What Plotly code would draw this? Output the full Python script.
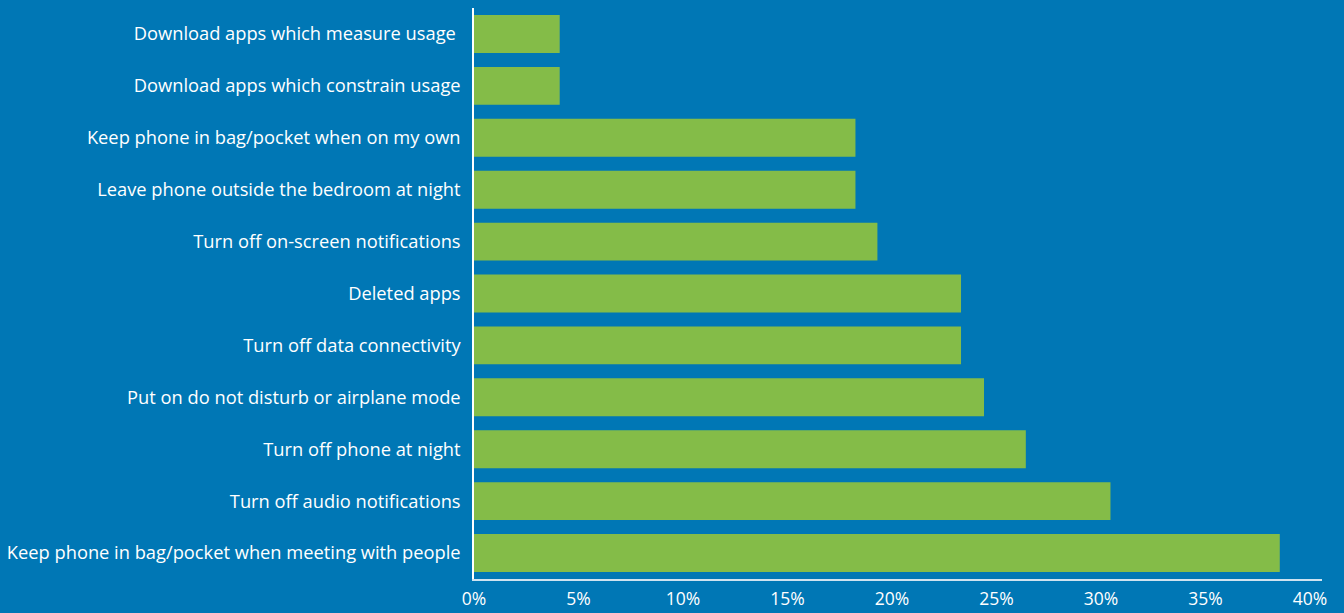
import plotly.graph_objects as go

categories = [
    "Keep phone in bag/pocket when meeting with people",
    "Turn off audio notifications",
    "Turn off phone at night",
    "Put on do not disturb or airplane mode",
    "Turn off data connectivity",
    "Deleted apps",
    "Turn off on-screen notifications",
    "Leave phone outside the bedroom at night",
    "Keep phone in bag/pocket when on my own",
    "Download apps which constrain usage",
    "Download apps which measure usage\u00a0",
]
values = [38.55, 30.45, 26.4, 24.4, 23.3, 23.3, 19.3, 18.25, 18.25, 4.1, 4.1]
tick_vals = [0, 5, 10, 15, 20, 25, 30, 35, 40]
tick_text = ["0%", "5%", "10%", "15%", "20%", "25%", "30%", "35%", "40%"]

BG = "#0077B5"
BAR = "#84BC48"

fig = go.Figure(go.Bar(
    x=values, y=categories, orientation="h",
    marker=dict(color=BAR, line=dict(width=0)),
    hoverinfo="x+y",
))

fig.update_layout(
    width=1344, height=613,
    paper_bgcolor=BG, plot_bgcolor=BG,
    margin=dict(l=474, r=22, t=8, b=34, autoexpand=False),
    bargap=0.27,
    showlegend=False,
    font=dict(family="Open Sans", color="white", size=18),
)
fig.update_xaxes(
    range=[0, 40.57], tickvals=tick_vals, ticktext=tick_text,
    showgrid=False, zeroline=False, automargin=False,
    showline=True, linecolor="#cfe3f0", linewidth=2,
    ticks="", ticklabelstandoff=3,
    tickfont=dict(size=17.5, color="white"),
)
fig.update_yaxes(
    showgrid=False, zeroline=False, automargin=False,
    showline=True, linecolor="white", linewidth=1.5,
    ticks="", ticklabelstandoff=8,
    tickfont=dict(size=18.3, color="white"),
)

fig.write_html(
    "out.html",
    config={"displayModeBar": False},
    post_script="document.body.style.margin='0';document.body.style.overflow='hidden';",
)
